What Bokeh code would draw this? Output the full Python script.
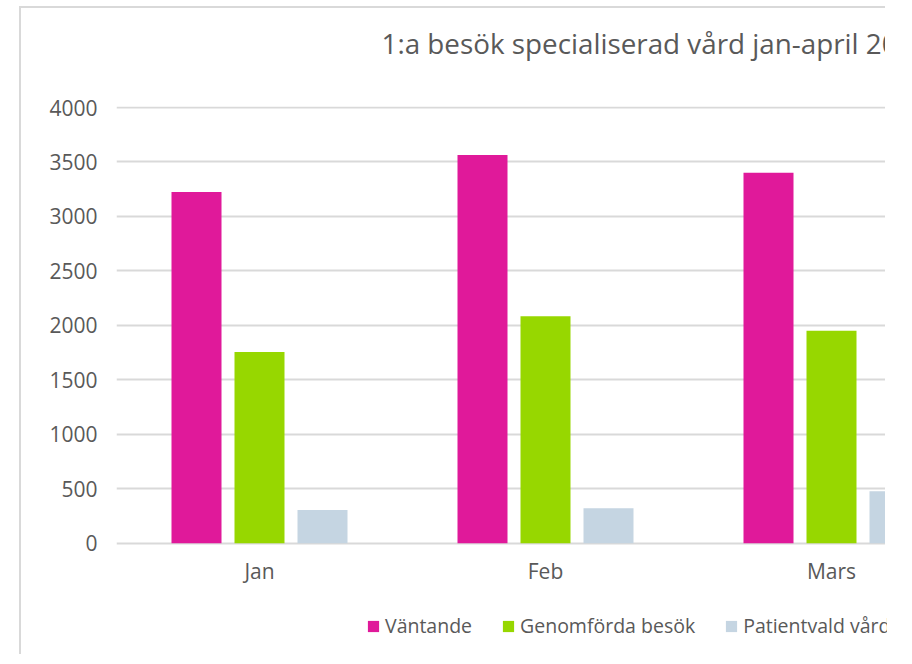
from bokeh.plotting import figure
from bokeh.models import Range1d, FixedTicker, Legend, LegendItem, ColumnDataSource, Title
from bokeh.core.properties import value
from bokeh.embed import file_html
from bokeh.resources import INLINE

months = ["Jan", "Feb", "Mars"]
series = ["Väntande", "Genomförda besök", "Patientvald vård"]
vantande = [3225, 3565, 3400]
genomforda = [1755, 2085, 1950]
patientvald = [305, 322, 478]
colors = ["#E0199A", "#97D700", "#C5D5E2"]
title_text = "1:a besök specialiserad vård jan-april 2019"
y_ticks = [0, 500, 1000, 1500, 2000, 2500, 3000, 3500, 4000]

FONT = "Open Sans"
TXT = "#595959"
GRID = "#D9D9D9"

px = 4000 / 435.0  # data units per pixel
p = figure(width=866, height=648, output_backend="svg", toolbar_location=None,
           title=None,
           x_range=Range1d(0, 771 / 286.0), y_range=Range1d(-113 * px, 4000 + px),
           min_border_left=95, min_border_right=0, min_border_top=98,
           min_border_bottom=0)
p.styles = {"border-left": "2px solid #D9D9D9", "border-top": "2px solid #D9D9D9",
            "margin-left": "19px", "margin-top": "6px"}
p.outline_line_color = None
p.background_fill_color = "white"
p.border_fill_color = "white"

# spacer between the title and the plot area
spacer = Title(text=" ", text_font_size="1px", standoff=37, text_color="white")
p.add_layout(spacer, "above")
title = Title(text=title_text, text_font=FONT, text_font_size="27.8px",
              text_font_style="normal", text_color=TXT, align="left",
              offset=265, standoff=10)
p.add_layout(title, "above")

centers = [i + 0.5 for i in range(len(months))]
offsets = [-63 / 286.0, 0.0, 63 / 286.0]
bw = 50 / 286.0
renderers = []
for vals, off, col in zip([vantande, genomforda, patientvald], offsets, colors):
    src = ColumnDataSource(dict(x=[c + off for c in centers], top=vals))
    r = p.vbar(x="x", top="top", bottom=0, width=bw, source=src,
               fill_color=col, line_color=None)
    renderers.append(r)

# category labels under the baseline
lab = ColumnDataSource(dict(x=centers, y=[-28 * px] * len(centers), t=months))
p.text(x="x", y="y", text="t", source=lab, text_font=value(FONT),
       text_font_size="21px", text_color=TXT, text_align="center",
       text_baseline="alphabetic")

p.xaxis.visible = False
p.yaxis.ticker = FixedTicker(ticks=y_ticks)
ax = p.yaxis[0]
ax.axis_line_color = None
ax.major_tick_line_color = None
ax.minor_tick_line_color = None
ax.major_tick_in = 0
ax.major_tick_out = 0
ax.major_label_text_font = FONT
ax.major_label_text_font_size = "21px"
ax.major_label_text_color = TXT
ax.major_label_standoff = 19

p.xgrid.grid_line_color = None
p.ygrid.ticker = FixedTicker(ticks=y_ticks)
p.ygrid.grid_line_color = GRID
p.ygrid.grid_line_width = 2

legend = Legend(items=[LegendItem(label=s, renderers=[r]) for s, r in zip(series, renderers)],
                orientation="horizontal", location=(250, 17))
legend.border_line_color = None
legend.background_fill_alpha = 0
legend.padding = 0
legend.margin = 0
legend.spacing = 29
legend.glyph_width = 14
legend.glyph_height = 14
legend.label_standoff = 5
legend.label_text_font = FONT
legend.label_text_font_size = "19.5px"
legend.label_text_color = TXT
p.add_layout(legend, "center")

open("out.html", "w").write(file_html(p, INLINE))
